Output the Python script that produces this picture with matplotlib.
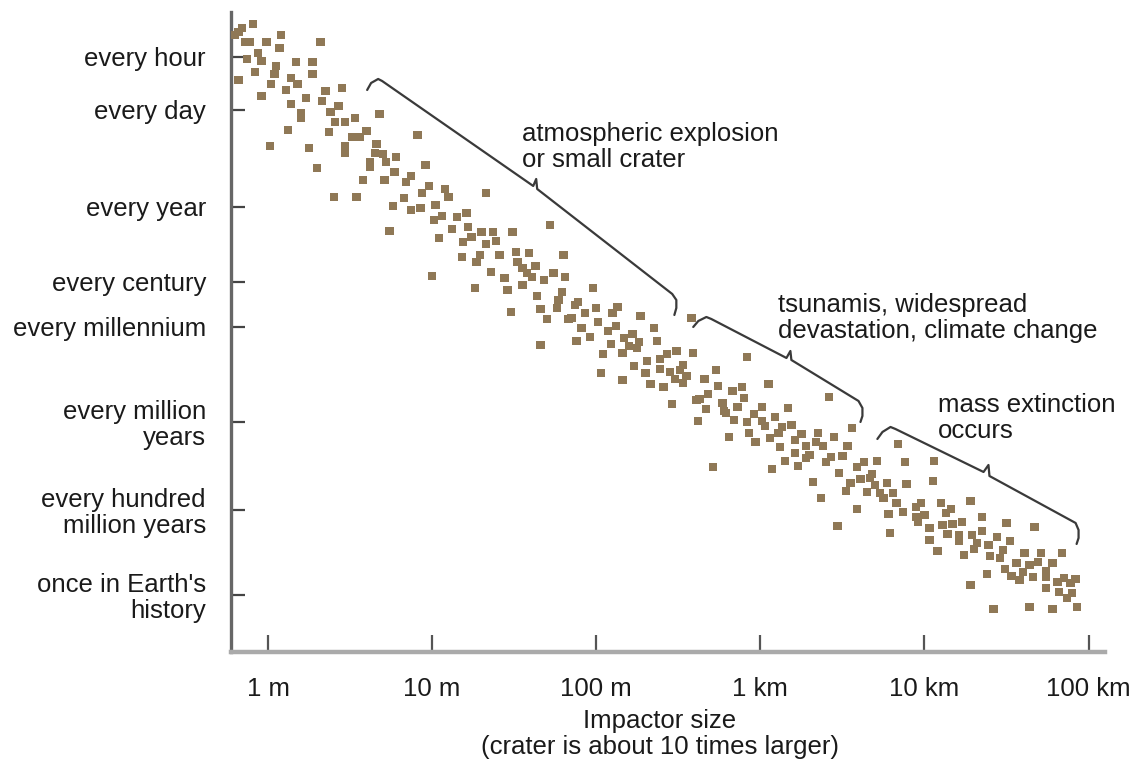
import matplotlib
matplotlib.use("Agg")
import matplotlib.pyplot as plt

plt.rcParams['font.family'] = ['Liberation Sans', 'DejaVu Sans']

# impactor size as log10(metres)
log_size = [
    -0.09, -0.16, -0.18, -0.20, 0.08, -0.14, -0.11, -0.01, 0.32, 0.07,
    -0.06, -0.13, -0.04, 0.17, 0.27, 0.05, -0.08, 0.04, 0.27, 0.14,
    -0.18, 0.18, 0.02, 0.11, 0.45, 0.35, -0.04, 0.23, 0.33, 0.14,
    0.43, 0.38, 0.20, 0.20, 0.68, 0.53, 0.41, 0.47, 0.12, 0.37,
    0.60, 0.51, 0.56, 0.66, 0.01, 0.25, 0.47, 0.47, 0.65, 0.70,
    0.78, 0.62, 0.72, 0.62, 0.77, 0.30, 0.58, 0.71, 0.40, 0.54,
    0.76, 0.74,
    0.91, 0.96, 0.87, 0.84, 0.98, 0.94, 1.08, 1.33, 1.10, 0.83,
    1.02, 0.93, 0.87, 1.06, 1.15, 1.21, 1.01, 1.72, 1.22, 1.12,
    1.30, 1.37, 1.49, 1.24, 1.04, 1.19, 1.39, 1.33, 1.29, 1.18,
    1.41, 1.51, 1.59, 1.80, 1.27, 1.52, 1.63, 1.55, 1.58, 1.61,
    1.36, 1.74, 1.68, 1.81, 1.00, 1.44, 1.55, 1.26, 1.46, 1.79,
    1.64, 1.77, 1.76, 1.66, 1.48, 1.70, 1.83, 1.66,
    1.98, 1.89, 1.87, 2.00, 2.13, 1.93, 2.10, 2.27, 2.58, 1.85,
    2.01, 2.12, 1.91, 2.07, 2.35, 2.22, 1.96, 2.17, 1.88, 2.37,
    2.26, 2.09, 2.20, 2.25, 2.49, 2.59, 2.43, 2.04, 2.16, 2.39,
    2.31, 2.23, 2.53, 2.51, 2.39, 2.45, 2.73, 2.30, 2.03, 2.55,
    2.48, 2.66, 2.16, 2.53, 2.33, 2.41, 2.74, 2.83, 2.68, 2.63,
    2.61, 2.77, 2.46, 2.86, 2.67, 2.78, 2.79, 2.84, 2.62, 2.81,
    2.71,
    2.92, 3.05, 2.89, 2.90, 3.42, 3.01, 3.17, 2.96, 3.09, 2.92,
    3.01, 3.03, 3.19, 3.13, 3.56, 3.11, 2.93, 3.25, 3.35, 3.45,
    3.06, 3.21, 3.34, 2.97, 3.28, 3.38, 3.53, 3.12, 3.84, 3.21,
    3.30, 3.43, 3.50, 3.28, 3.15, 3.71, 3.63, 3.40, 3.88, 3.59,
    3.23, 3.07, 3.48, 3.68, 3.61, 3.67, 3.32, 3.55, 3.70, 3.77,
    3.89, 3.52, 3.65, 3.73, 3.81, 3.75, 3.37, 3.83, 3.59, 3.78,
    3.87, 3.47, 3.79,
    4.06, 4.05, 3.98, 3.95, 4.10, 4.28, 4.16, 4.13, 4.00, 3.95,
    4.35, 3.96, 4.17, 4.23, 4.50, 4.11, 4.67, 4.03, 4.35, 4.14,
    4.21, 4.29, 4.44, 4.21, 4.32, 4.03, 4.52, 4.39, 4.30, 4.48,
    4.08, 4.61, 4.71, 4.84, 4.24, 4.40, 4.46, 4.69, 4.56, 4.64,
    4.78, 4.49, 4.60, 4.74, 4.38, 4.53, 4.66, 4.74, 4.85, 4.92,
    4.58, 4.81, 4.89, 4.74, 4.82, 4.90, 4.28, 4.87, 4.42, 4.64,
    4.78, 4.93,
]

# how rare the impact is, on the chart's own vertical scale (0 = top)
rarity = [
    24, 28, 32, 35, 35, 42, 42, 42, 42, 48,
    53, 59, 61, 62, 62, 66, 72, 74, 74, 78,
    80, 84, 84, 90, 88, 91, 96, 98, 101, 104,
    106, 112, 113, 118, 114, 118, 122, 122, 130, 132,
    131, 137, 137, 144, 146, 148, 146, 153, 153, 154,
    157, 162, 162, 167, 172, 168, 180, 180, 197, 197,
    206, 231,
    135, 165, 176, 182, 186, 193, 189, 193, 197, 198,
    205, 208, 210, 216, 217, 213, 220, 225, 227, 229,
    232, 232, 232, 237, 238, 242, 241, 244, 255, 257,
    255, 252, 253, 255, 262, 262, 266, 268, 273, 277,
    272, 273, 280, 277, 276, 278, 285, 288, 290, 292,
    296, 300, 308, 309, 312, 319, 319, 345,
    288, 302, 305, 308, 307, 313, 313, 316, 318, 318,
    322, 326, 328, 331, 328, 334, 337, 338, 341, 341,
    342, 344, 346, 348, 351, 353, 354, 354, 353, 359,
    361, 366, 365, 370, 369, 372, 370, 373, 373, 376,
    379, 379, 380, 383, 384, 387, 386, 391, 394, 399,
    400, 403, 404, 407, 409, 411, 413, 420, 421, 437,
    467,
    357, 384, 387, 398, 397, 407, 408, 414, 417, 422,
    421, 426, 425, 427, 428, 433, 433, 434, 433, 437,
    438, 440, 442, 442, 446, 446, 446, 447, 444, 453,
    455, 457, 456, 458, 461, 461, 462, 462, 462, 467,
    466, 469, 473, 474, 479, 478, 482, 483, 485, 483,
    484, 491, 492, 493, 493, 498, 498, 503, 509, 514,
    512, 526, 533,
    461, 481, 503, 507, 503, 501, 509, 513, 515, 517,
    517, 522, 524, 522, 523, 525, 527, 528, 531, 534,
    535, 535, 537, 541, 543, 540, 541, 545, 549, 550,
    551, 553, 553, 553, 555, 556, 558, 562, 563, 565,
    563, 569, 572, 571, 574, 576, 577, 577, 578, 579,
    580, 582, 583, 588, 592, 593, 585, 598, 609, 607,
    609, 607,
]

x_ticks = [0, 1, 2, 3, 4, 5]
x_labels = ["1 m", "10 m", "100 m", "1 km", "10 km", "100 km"]

y_ticks = [57, 110, 207, 282, 327, 422, 510, 595]
y_labels = ["every hour", "every day", "every year", "every century",
            "every millennium", "every million\nyears",
            "every hundred\nmillion years", "once in Earth's\nhistory"]

# braces: (x vertices, y vertices, label, label x, label y)
braces = [
    ([0.604, 0.628, 0.671, 0.695, 1.616, 1.634, 1.640, 2.463, 2.488, 2.488, 2.476],
     [90, 83, 79, 81, 186, 179, 189, 294, 300, 308, 315],
     "atmospheric explosion\nor small crater", 1.55, 147),
    ([2.591, 2.622, 2.671, 2.701, 3.159, 3.183, 3.189, 3.598, 3.622, 3.622, 3.610],
     [327, 321, 317, 319, 358, 351, 360, 401, 408, 416, 422],
     "tsunamis, widespread\ndevastation, climate change", 3.11, 318),
    ([3.713, 3.744, 3.793, 3.823, 4.360, 4.390, 4.396, 4.921, 4.939, 4.939, 4.927],
     [439, 432, 427, 429, 472, 465, 476, 523, 530, 538, 544],
     "mass extinction\noccurs", 4.08, 418),
]

fig = plt.figure(figsize=(11.31, 7.63), dpi=100)
ax = fig.add_axes([0.2042, 0.1455, 0.7728, 0.8388])

ax.scatter(log_size, rarity, s=36, marker="s", color="#8f7856",
           edgecolors="none", zorder=3)

for bx, by, label, tx, ty in braces:
    ax.plot(bx, by, color="#3a3a3a", lw=1.6, solid_capstyle="round",
            solid_joinstyle="round")
    ax.text(tx, ty, label, fontsize=18.5, color="#1a1a1a", ha="left",
            va="center", linespacing=1.1)

ax.set_xlim(-0.226, 5.10)
ax.set_ylim(652, 12)

ax.set_xticks(x_ticks)
ax.set_xticklabels(x_labels)
ax.set_yticks(y_ticks)
ax.set_yticklabels(y_labels, linespacing=1.1)

ax.tick_params(axis="x", direction="in", length=12, width=1.6,
               color="#555555", labelsize=18.5, pad=18, labelcolor="#1a1a1a")
ax.tick_params(axis="y", direction="in", length=10, width=1.6,
               color="#444444", labelsize=18.5, pad=18, labelcolor="#1a1a1a")

for side in ["top", "right"]:
    ax.spines[side].set_visible(False)
ax.spines["left"].set_color("#666666")
ax.spines["left"].set_linewidth(2.4)
ax.spines["bottom"].set_color("#aaaaaa")
ax.spines["bottom"].set_linewidth(3.2)

fig.text(660 / 1131, 1 - 734 / 763,
         "Impactor size\n(crater is about 10 times larger)",
         fontsize=18.5, color="#1a1a1a", ha="center", va="center",
         linespacing=1.1)

fig.savefig("out.png", dpi=100)
